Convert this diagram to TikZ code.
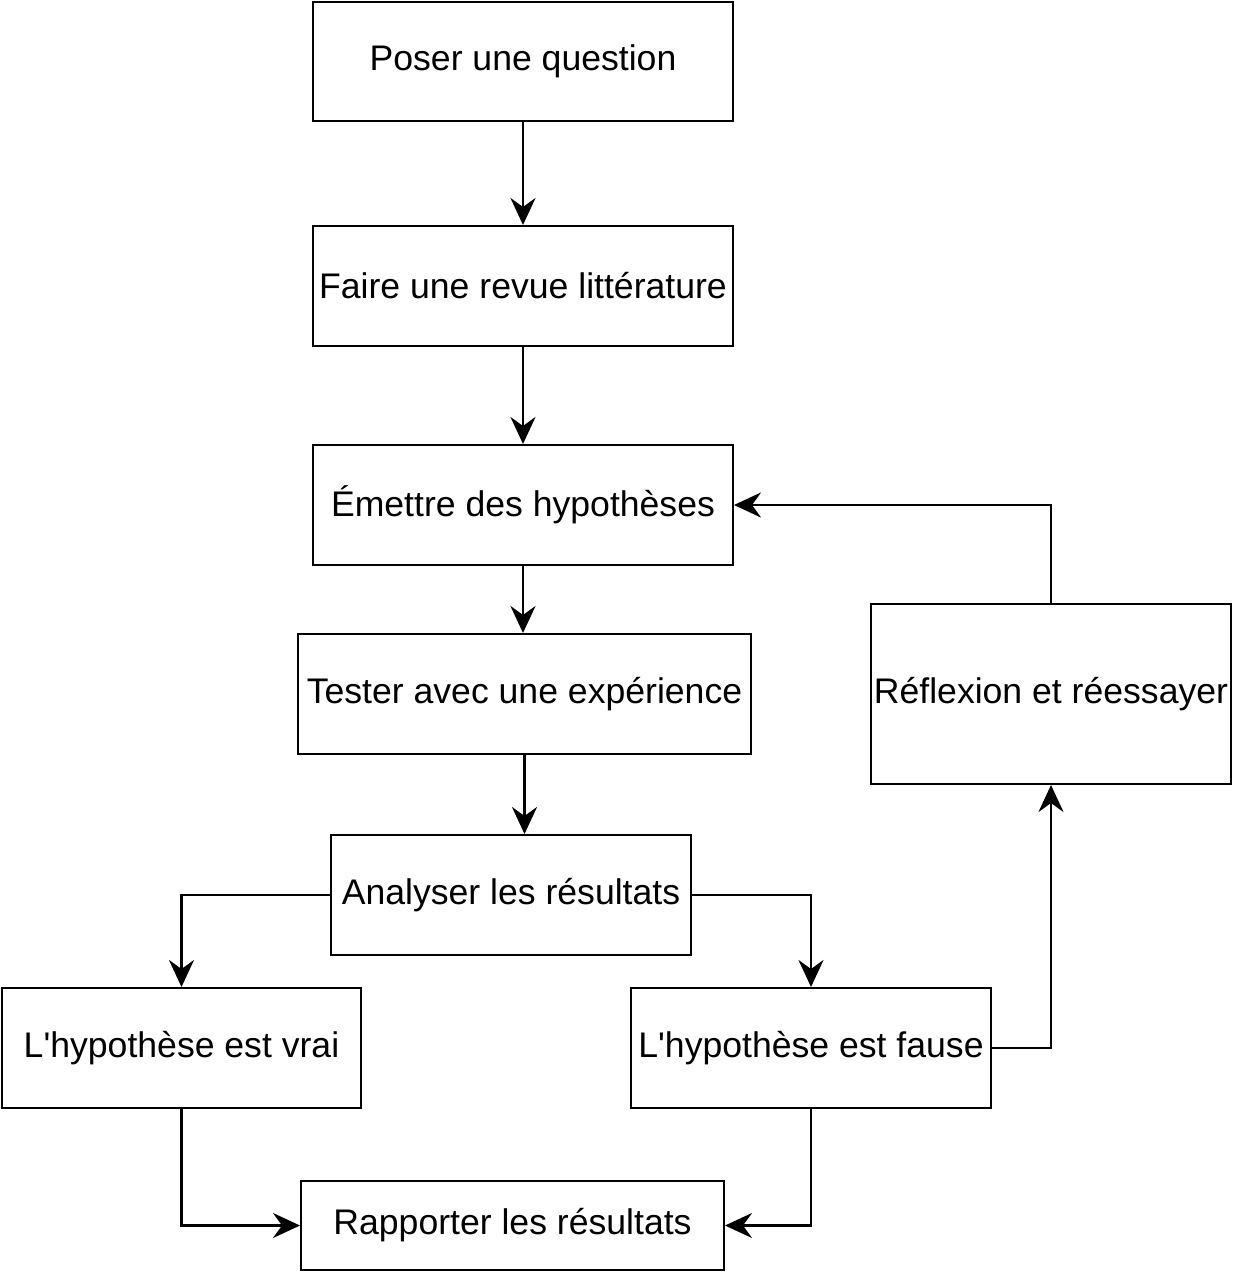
\documentclass[tikz,border=0pt]{standalone}
\usepackage{fontspec}
\setmainfont{Liberation Sans}
\usetikzlibrary{arrows.meta}
\usetikzlibrary{positioning}

\begin{document}
\begin{tikzpicture}[%
x={(0.5pt,0pt)},
y={(0pt,-0.5pt)},
box/.style={draw=black,line width=1pt,fill=white,inner sep=0pt,
  font=\fontsize{17.8}{21}\selectfont},
fleche/.style={line width=1.4pt,-{Stealth[length=13.5pt,width=12.5pt,inset=4.5pt]}},
]

\useasboundingbox (0,0) rectangle (1233,1275);

%Kaestchen
\node[box,minimum width=210pt,minimum height=59.5pt](question) at (523,61.5){Poser une question};
\node[box,minimum width=210pt,minimum height=60pt](revue) at (523,286){Faire une revue littérature};
\node[box,minimum width=210pt,minimum height=60pt](hypo) at (523,505){Émettre des hypothèses};
\node[box,minimum width=226.5pt,minimum height=60pt](tester) at (524.5,694){Tester avec une expérience};
\node[box,minimum width=180pt,minimum height=60pt](analyse) at (511,895){Analyser les résultats};
\node[box,minimum width=179.5pt,minimum height=60pt](vrai) at (181.5,1048){L\textquotesingle hypothèse est vrai};
\node[box,minimum width=180pt,minimum height=60pt](fause) at (811,1048){L\textquotesingle hypothèse est fause};
\node[box,minimum width=211.5pt,minimum height=44.5pt](rapport) at (512.5,1225.5){Rapporter les résultats};
\node[box,minimum width=180pt,minimum height=90pt](reflexion) at (1051,694){Réflexion et réessayer};

%Pfeile
\draw[fleche] (question) -- (revue);
\draw[fleche] (revue) -- (hypo);
\draw[fleche] (hypo.south) -- (hypo.south |- tester.north);
\draw[fleche] (tester) -- (tester.south |- analyse.north);
\draw[fleche] (analyse.west) -| (vrai.north);
\draw[fleche] (analyse.east) -| (fause.north);
\draw[fleche] (vrai.south) |- (rapport.west);
\draw[fleche] (fause.south) |- (rapport.east);
\draw[fleche] (fause.east) -| (reflexion.south);
\draw[fleche] (reflexion.north) |- (hypo.east);

\end{tikzpicture}
\end{document}
